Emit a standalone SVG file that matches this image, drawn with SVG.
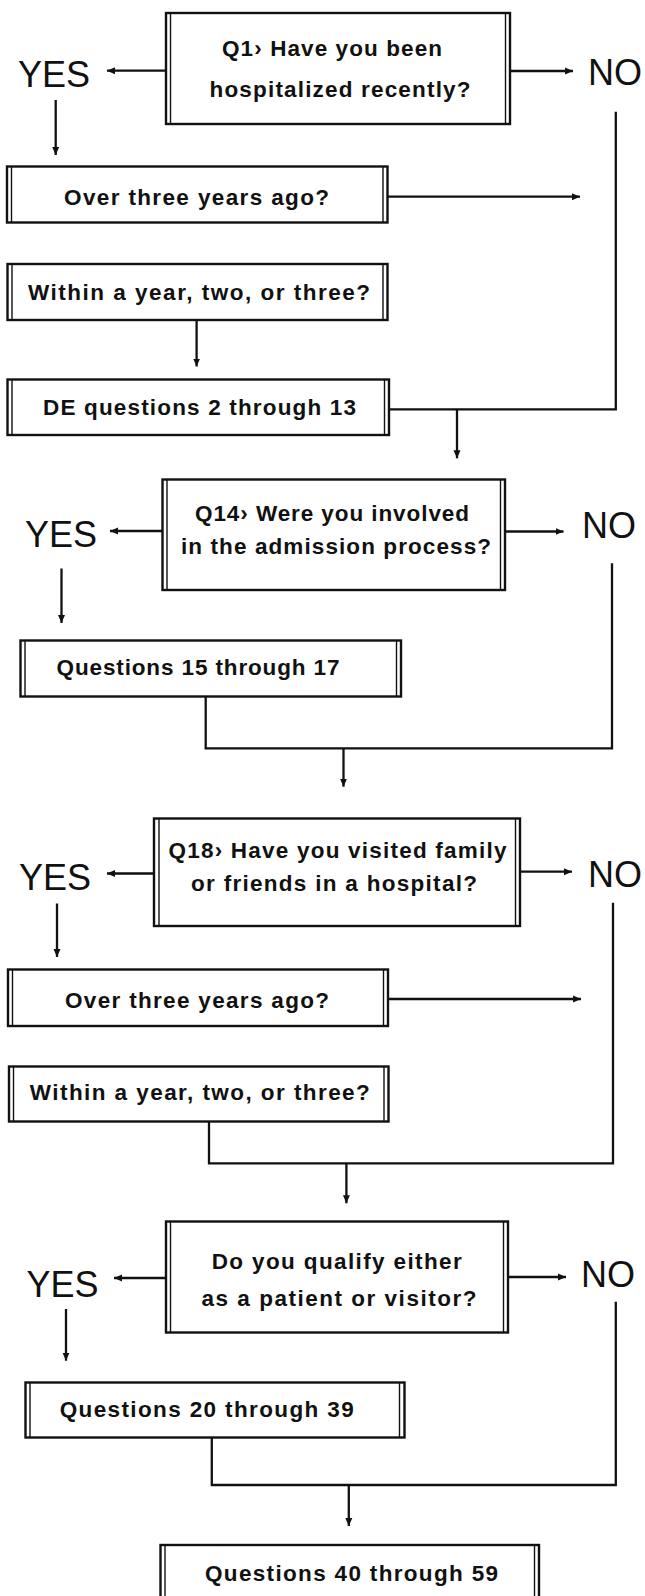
<svg xmlns="http://www.w3.org/2000/svg" width="645" height="1596" viewBox="0 0 645 1596">
<defs>
<style>
.bx{fill:#fff;stroke:#111;stroke-width:2.4}
.in{stroke:#111;stroke-width:1.4}
.t{font-family:"Liberation Sans",Arial,sans-serif;font-weight:bold;font-size:22.5px;fill:#111;text-anchor:middle}
.yn{font-family:"Liberation Sans",Arial,sans-serif;font-size:36px;fill:#111}
.c{fill:none;stroke:#111;stroke-width:2.3}
.a{fill:none;stroke:#111;stroke-width:2.3;marker-end:url(#ah)}
</style>
<marker id="ah" markerUnits="userSpaceOnUse" markerWidth="9" markerHeight="8" refX="8" refY="4" orient="auto">
<path d="M0,0.5 L8,4 L0,7.5 z" fill="#111"/>
</marker>
</defs>
<rect width="645" height="1596" fill="#fff"/>

<g id="q1">
<rect class="bx" x="166" y="13" width="344" height="111"/>
<line class="in" x1="170.5" y1="13" x2="170.5" y2="124"/><line class="in" x1="505.5" y1="13" x2="505.5" y2="124"/>
<text class="t" x="332" y="56" textLength="220" lengthAdjust="spacing">Q1› Have you been</text>
<text class="t" x="340" y="96.5" textLength="261" lengthAdjust="spacing">hospitalized recently?</text>
</g>
<g id="yes1"><text class="yn" x="18" y="87">YES</text></g>
<g id="no1"><text class="yn" x="588" y="85">NO</text></g>

<g id="over1">
<rect class="bx" x="7" y="166.5" width="380.5" height="56"/>
<line class="in" x1="11.5" y1="166.5" x2="11.5" y2="222.5"/><line class="in" x1="383" y1="166.5" x2="383" y2="222.5"/>
<text class="t" x="196.5" y="205" textLength="265" lengthAdjust="spacing">Over three years ago?</text>
</g>
<g id="within1">
<rect class="bx" x="7.5" y="264" width="380" height="56"/>
<line class="in" x1="12" y1="264" x2="12" y2="320"/><line class="in" x1="383" y1="264" x2="383" y2="320"/>
<text class="t" x="199" y="299.5" textLength="342" lengthAdjust="spacing">Within a year, two, or three?</text>
</g>
<g id="de">
<rect class="bx" x="7.5" y="379.5" width="381.5" height="55.5"/>
<line class="in" x1="12" y1="379.5" x2="12" y2="435"/><line class="in" x1="384.5" y1="379.5" x2="384.5" y2="435"/>
<text class="t" x="199.5" y="415" textLength="313" lengthAdjust="spacing">DE questions 2 through 13</text>
</g>

<g id="q14">
<rect class="bx" x="162.5" y="479.5" width="342.5" height="110.5"/>
<line class="in" x1="167" y1="479.5" x2="167" y2="590"/><line class="in" x1="500.5" y1="479.5" x2="500.5" y2="590"/>
<text class="t" x="332" y="520.5" textLength="274" lengthAdjust="spacing">Q14› Were you involved</text>
<text class="t" x="336" y="553.5" textLength="310" lengthAdjust="spacing">in the admission process?</text>
</g>
<g id="yes2"><text class="yn" x="25" y="547">YES</text></g>
<g id="no2"><text class="yn" x="582" y="538">NO</text></g>
<g id="q15">
<rect class="bx" x="20.5" y="640.5" width="380.5" height="56"/>
<line class="in" x1="25" y1="640.5" x2="25" y2="696.5"/><line class="in" x1="396.5" y1="640.5" x2="396.5" y2="696.5"/>
<text class="t" x="198" y="675" textLength="283" lengthAdjust="spacing">Questions 15 through 17</text>
</g>

<g id="q18">
<rect class="bx" x="154" y="818.5" width="366" height="107.5"/>
<line class="in" x1="159" y1="818.5" x2="159" y2="926"/><line class="in" x1="515.5" y1="818.5" x2="515.5" y2="926"/>
<text class="t" x="337.5" y="857.5" textLength="338" lengthAdjust="spacing">Q18› Have you visited family</text>
<text class="t" x="334" y="890.5" textLength="286" lengthAdjust="spacing">or friends in a hospital?</text>
</g>
<g id="yes3"><text class="yn" x="19" y="890">YES</text></g>
<g id="no3"><text class="yn" x="588" y="887">NO</text></g>
<g id="over2">
<rect class="bx" x="8" y="969.5" width="380" height="56.5"/>
<line class="in" x1="12.5" y1="969.5" x2="12.5" y2="1026"/><line class="in" x1="383.5" y1="969.5" x2="383.5" y2="1026"/>
<text class="t" x="197" y="1007.5" textLength="264" lengthAdjust="spacing">Over three years ago?</text>
</g>
<g id="within2">
<rect class="bx" x="9" y="1066.5" width="379.5" height="55"/>
<line class="in" x1="13.5" y1="1066.5" x2="13.5" y2="1121.5"/><line class="in" x1="384" y1="1066.5" x2="384" y2="1121.5"/>
<text class="t" x="199.8" y="1100" textLength="340" lengthAdjust="spacing">Within a year, two, or three?</text>
</g>

<g id="qualify">
<rect class="bx" x="166" y="1221.5" width="342" height="111"/>
<line class="in" x1="170.5" y1="1221.5" x2="170.5" y2="1332.5"/><line class="in" x1="503.5" y1="1221.5" x2="503.5" y2="1332.5"/>
<text class="t" x="336.7" y="1268.5" textLength="250" lengthAdjust="spacing">Do you qualify either</text>
<text class="t" x="339" y="1306" textLength="275" lengthAdjust="spacing">as a patient or visitor?</text>
</g>
<g id="yes4"><text class="yn" x="26.5" y="1297">YES</text></g>
<g id="no4"><text class="yn" x="581" y="1287">NO</text></g>
<g id="q20">
<rect class="bx" x="25.5" y="1382.5" width="379" height="55"/>
<line class="in" x1="30" y1="1382.5" x2="30" y2="1437.5"/><line class="in" x1="399.5" y1="1382.5" x2="399.5" y2="1437.5"/>
<text class="t" x="206.7" y="1416.5" textLength="294" lengthAdjust="spacing">Questions 20 through 39</text>
</g>
<g id="q40">
<rect class="bx" x="160.5" y="1545" width="378.5" height="70"/>
<line class="in" x1="165" y1="1545" x2="165" y2="1615"/><line class="in" x1="534.5" y1="1545" x2="534.5" y2="1615"/>
<text class="t" x="351.5" y="1581" textLength="293" lengthAdjust="spacing">Questions 40 through 59</text>
</g>

<g id="connectors">
<path class="a" d="M166,70.7 H107"/>
<path class="a" d="M510,71 H573"/>
<path class="a" d="M55.7,100 V155"/>
<path class="a" d="M388,196.7 H580"/>
<path class="a" d="M196.6,320 V366.5"/>
<path class="c" d="M615.8,111.7 V409.3 H389"/>
<path class="a" d="M457,409.3 V458.3"/>

<path class="a" d="M162.5,531 H110"/>
<path class="a" d="M505,531.5 H563.5"/>
<path class="a" d="M61.5,568.5 V623"/>
<path class="c" d="M612,563.3 V748.3 H205.7 V696.5"/>
<path class="a" d="M343.5,748.3 V786.7"/>

<path class="a" d="M154,873.5 H107"/>
<path class="a" d="M520,871.7 H572"/>
<path class="a" d="M57,903.5 V957"/>
<path class="a" d="M388,999 H581"/>
<path class="c" d="M613,902.7 V1163.3 H209 V1121.5"/>
<path class="a" d="M346.4,1163.3 V1203.3"/>

<path class="a" d="M166,1278 H114"/>
<path class="a" d="M508,1277 H566"/>
<path class="a" d="M66,1309 V1360.7"/>
<path class="c" d="M615.8,1301.7 V1485 H211.8 V1437.5"/>
<path class="a" d="M348.8,1485 V1526"/>
</g>
</svg>
